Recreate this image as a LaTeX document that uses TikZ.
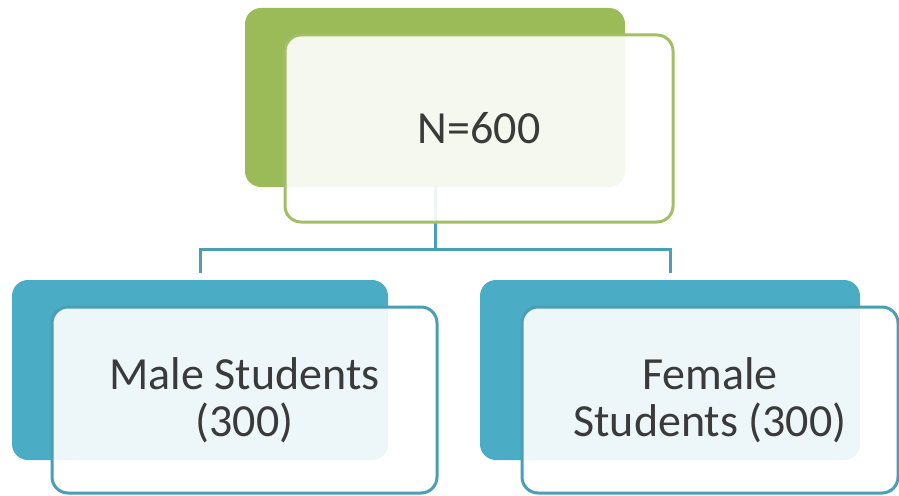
\documentclass[tikz,border=0pt]{standalone}
\usepackage{fontspec}
\setmainfont{Carlito}
\definecolor{gback}{HTML}{9BBB59}
\definecolor{gline}{HTML}{A3BF66}
\definecolor{bback}{HTML}{4BACC6}
\definecolor{bline}{HTML}{4A9EB6}
\definecolor{txt}{HTML}{3A3A3A}
\tikzset{
  backbox/.style={rectangle, rounded corners=16pt, inner sep=0pt},
  frontbox/.style={rectangle, rounded corners=16pt, inner sep=0pt, line width=3pt,
     fill=white, fill opacity=0.9, text opacity=1, text=txt, align=center},
  conn/.style={draw=bline, line width=3pt, shorten >=7pt}
}
\begin{document}
\begin{tikzpicture}[x=1pt,y=-1pt]
\useasboundingbox (0,0) rectangle (899,495);
% back boxes
\node[backbox, fill=gback, minimum width=380pt, minimum height=179pt] (topb) at (435,97.5) {};
\node[backbox, fill=bback, minimum width=376pt, minimum height=180pt] (leftb) at (200,370) {};
\node[backbox, fill=bback, minimum width=380pt, minimum height=180pt] (rightb) at (670,370) {};
% connectors
\coordinate (bus) at (435,249);
\draw[conn] (topb.south) -- (bus) -| (leftb.north);
\draw[conn] (topb.south) -- (bus) -| (rightb.north);
% front boxes
\node[frontbox, draw=gline, minimum width=388pt, minimum height=187pt,
      font=\fontsize{46}{46}\selectfont] (top) at (479,128.5) {N=600};
\node[frontbox, draw=bline, minimum width=385pt, minimum height=186pt,
      font=\fontsize{46}{47}\selectfont] (male) at (244.5,400) {Male Students\\(300)};
\node[frontbox, draw=bline, minimum width=376pt, minimum height=186pt,
      font=\fontsize{46}{47}\selectfont] (female) at (710,400) {Female\\Students (300)};
\end{tikzpicture}
\end{document}
